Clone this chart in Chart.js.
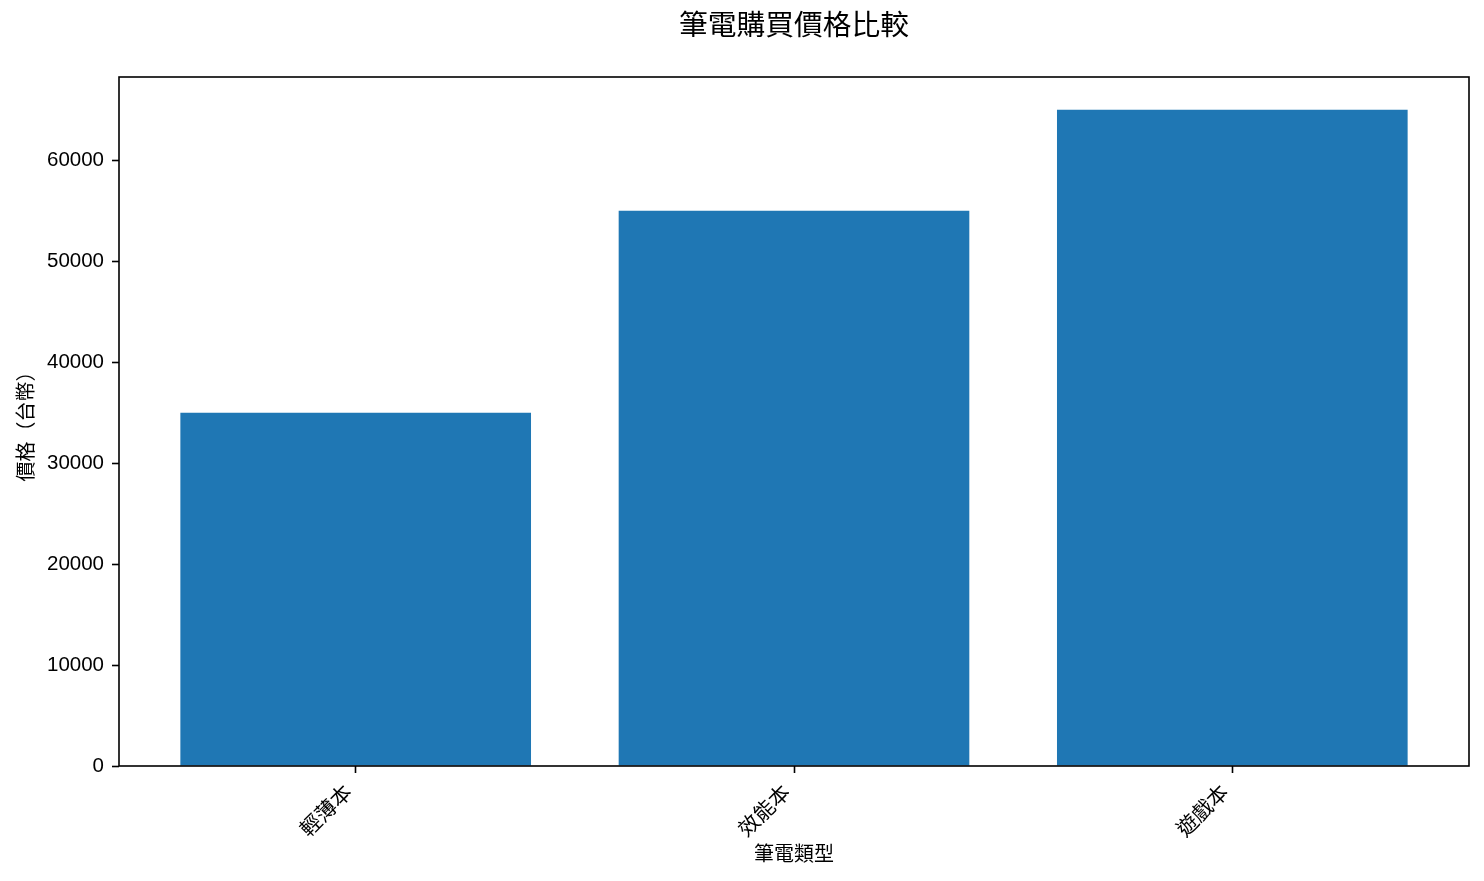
<!DOCTYPE html>
<html><head><meta charset="utf-8">
<script src="https://cdn.jsdelivr.net/npm/chart.js@4.4.1/dist/chart.umd.min.js"></script>
<style>html,body{margin:0;padding:0;background:#fff}#wrap{width:1484px;height:881px;position:relative}</style>
</head><body><div id="wrap"><canvas id="c"></canvas></div>
<script>
const categories = ['輕薄本', '效能本', '遊戲本'];
const prices = [35000, 55000, 65000];
const yTicks = [0, 10000, 20000, 30000, 40000, 50000, 60000];
const chartTitle = '筆電購買價格比較';
const xLabel = '筆電類型';
const yLabel = '價格（台幣）';

const FONT = "'Liberation Sans', Arial, 'Noto Sans CJK TC', sans-serif";
const CJK = "'Noto Sans CJK TC', 'Liberation Sans', sans-serif";

const frame = {
  id: 'frame',
  afterDatasetsDraw(chart) {
    const {ctx, chartArea: a} = chart;
    ctx.save();
    ctx.strokeStyle = '#000';
    ctx.lineWidth = 1.6;
    ctx.strokeRect(a.left, a.top, a.right - a.left, a.bottom - a.top);
    ctx.restore();
  }
};

Chart.defaults.color = '#000';
new Chart(document.getElementById('c'), {
  type: 'bar',
  data: {
    datasets: [{
      data: prices.map((v, i) => ({x: i, y: v})),
      backgroundColor: '#1f77b4',
      borderWidth: 0,
      categoryPercentage: 0.8,
      barPercentage: 1.0
    }]
  },
  options: {
    responsive: true,
    maintainAspectRatio: false,
    animation: false,
    layout: {padding: {top: 0, left: 0, right: 15, bottom: 0}},
    plugins: {
      legend: {display: false},
      tooltip: {enabled: false},
      title: {
        display: true,
        text: chartTitle,
        fullSize: false,
        color: '#000',
        font: {family: CJK, size: 28.75, weight: 'normal'},
        padding: {top: 7, bottom: 35.5}
      }
    },
    scales: {
      x: {
        type: 'linear',
        offset: false,
        min: -0.54,
        max: 2.54,
        afterBuildTicks(scale) { scale.ticks = categories.map((c, i) => ({value: i})); },
        afterFit(scale) { scale.height = 115; },
        ticks: {
          autoSkip: false,
          minRotation: 45,
          maxRotation: 45,
          padding: 6,
          labelOffset: -8,
          font: {family: CJK, size: 21},
          color: '#000',
          callback: (v) => categories[v]
        },
        grid: {offset: false, drawOnChartArea: false, drawTicks: true, tickLength: 7, tickWidth: 1.6, tickColor: '#000'},
        border: {display: false},
        title: {display: true, text: xLabel, color: '#000', font: {family: CJK, size: 20}, padding: {top: 0, bottom: 16}}
      },
      y: {
        min: 0,
        max: 68250,
        afterBuildTicks(scale) { scale.ticks = yTicks.map(v => ({value: v})); },
        afterFit(scale) { scale.width = 119; },
        ticks: {
          padding: 8,
          font: {family: FONT, size: 20.5},
          color: '#000',
          callback: (v) => String(v)
        },
        grid: {drawOnChartArea: false, drawTicks: true, tickLength: 7, tickWidth: 1.6, tickColor: '#000'},
        border: {display: false},
        title: {display: true, text: yLabel, color: '#000', font: {family: CJK, size: 20}, padding: {top: 13, bottom: 0}}
      }
    }
  },
  plugins: [frame]
});
</script>
</body></html>
